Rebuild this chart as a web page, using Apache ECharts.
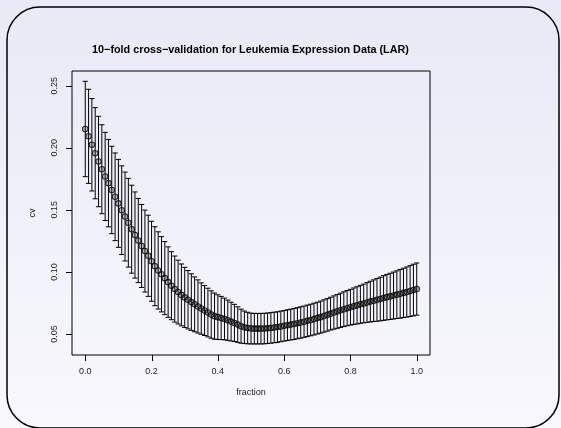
<!DOCTYPE html>
<html>
<head>
<meta charset="utf-8">
<script src="https://cdn.jsdelivr.net/npm/echarts@6/dist/echarts.min.js"></script>
<style>html,body{margin:0;padding:0;}#c{width:561px;height:428px;}</style>
</head>
<body>
<div id="c"></div>
<script>
const fraction = [0.00,0.01,0.02,0.03,0.04,0.05,0.06,0.07,0.08,0.09,
0.10,0.11,0.12,0.13,0.14,0.15,0.16,0.17,0.18,0.19,
0.20,0.21,0.22,0.23,0.24,0.25,0.26,0.27,0.28,0.29,
0.30,0.31,0.32,0.33,0.34,0.35,0.36,0.37,0.38,0.39,
0.40,0.41,0.42,0.43,0.44,0.45,0.46,0.47,0.48,0.49,
0.50,0.51,0.52,0.53,0.54,0.55,0.56,0.57,0.58,0.59,
0.60,0.61,0.62,0.63,0.64,0.65,0.66,0.67,0.68,0.69,
0.70,0.71,0.72,0.73,0.74,0.75,0.76,0.77,0.78,0.79,
0.80,0.81,0.82,0.83,0.84,0.85,0.86,0.87,0.88,0.89,
0.90,0.91,0.92,0.93,0.94,0.95,0.96,0.97,0.98,0.99,1.00];
const cv = [0.2151,0.2092,0.2024,0.1956,0.1889,0.1827,0.1769,0.1715,0.1660,0.1605,
0.1552,0.1497,0.1446,0.1396,0.1344,0.1297,0.1253,0.1209,0.1168,0.1130,
0.1086,0.1046,0.1012,0.0981,0.0950,0.0918,0.0889,0.0862,0.0838,0.0815,
0.0795,0.0776,0.0757,0.0739,0.0722,0.0705,0.0689,0.0673,0.0657,0.0644,
0.0636,0.0629,0.0621,0.0611,0.0600,0.0589,0.0576,0.0563,0.0554,0.0548,
0.0544,0.0543,0.0543,0.0543,0.0544,0.0546,0.0549,0.0553,0.0556,0.0561,
0.0566,0.0571,0.0576,0.0581,0.0587,0.0593,0.0599,0.0606,0.0613,0.0620,
0.0628,0.0636,0.0645,0.0654,0.0664,0.0673,0.0682,0.0691,0.0700,0.0708,
0.0716,0.0724,0.0731,0.0739,0.0746,0.0754,0.0761,0.0768,0.0775,0.0782,
0.0790,0.0797,0.0803,0.0810,0.0817,0.0824,0.0831,0.0838,0.0846,0.0854,0.0862];
const se = [0.0384,0.0379,0.0372,0.0367,0.0364,0.0358,0.0355,0.0352,0.0352,0.0353,
0.0354,0.0357,0.0358,0.0357,0.0354,0.0347,0.0339,0.0334,0.0330,0.0327,
0.0322,0.0318,0.0311,0.0303,0.0294,0.0284,0.0274,0.0266,0.0257,0.0249,
0.0242,0.0235,0.0228,0.0221,0.0214,0.0207,0.0201,0.0196,0.0191,0.0186,
0.0180,0.0174,0.0168,0.0162,0.0156,0.0150,0.0143,0.0137,0.0131,0.0127,
0.0124,0.0123,0.0123,0.0123,0.0123,0.0123,0.0123,0.0123,0.0123,0.0123,
0.0123,0.0124,0.0124,0.0125,0.0125,0.0126,0.0126,0.0127,0.0127,0.0128,
0.0128,0.0129,0.0130,0.0131,0.0132,0.0134,0.0136,0.0138,0.0140,0.0142,
0.0144,0.0147,0.0150,0.0153,0.0156,0.0160,0.0164,0.0168,0.0172,0.0176,
0.0180,0.0183,0.0186,0.0189,0.0192,0.0196,0.0199,0.0202,0.0205,0.0208,0.0210];
const xTicks = [0, 0.2, 0.4, 0.6, 0.8, 1.0];
const yTicks = [0.05, 0.10, 0.15, 0.20, 0.25];
const xRange = [-0.04, 1.04];
const yRange = [0.0331, 0.2618];
const titleText = '10\u2212fold cross\u2212validation for Leukemia Expression Data (LAR)';

const points = fraction.map((f, i) => [f, cv[i]]);
const bars = fraction.map((f, i) => [f, cv[i] - se[i], cv[i] + se[i]]);

const chart = echarts.init(document.getElementById('c'), null, {renderer: 'canvas'});
const font = 'Liberation Sans, Arial, Helvetica, sans-serif';
const TICK = 6;
function snap(v) { return Math.round(v) + 0.5; }
chart.setOption({
  animation: false,
  backgroundColor: 'transparent',
  graphic: [
    {type: 'rect', z: -10, silent: true, shape: {x: 0, y: 0, width: 561, height: 428},
     style: {fill: new echarts.graphic.LinearGradient(0, 0, 0, 1, [
        {offset: 0, color: '#e9e9f7'}, {offset: 1, color: '#f8f8fd'}])}},
    {type: 'rect', z: 100, silent: true, shape: {x: 7, y: 7, width: 552, height: 421, r: 33},
     style: {fill: 'none', stroke: '#000', lineWidth: 1.5}}
  ],
  title: {
    text: titleText, left: 250.5, top: 44.5, textAlign: 'center', padding: 0,
    textStyle: {fontFamily: font, fontSize: 10.8, fontWeight: 'bold', color: '#000'}
  },
  grid: {left: 72, right: 131, top: 71, bottom: 73, show: true,
         borderColor: '#000', borderWidth: 1, backgroundColor: 'transparent'},
  xAxis: {
    type: 'value', min: xRange[0], max: xRange[1], position: 'bottom',
    name: 'fraction', nameLocation: 'middle', nameGap: 33,
    nameTextStyle: {fontFamily: font, fontSize: 9, color: '#222'},
    axisLine: {show: false, onZero: false},
    splitLine: {show: false},
    axisTick: {show: false},
    axisLabel: {customValues: xTicks, margin: 12, fontFamily: font, fontSize: 9, color: '#222',
                formatter: v => v.toFixed(1)}
  },
  yAxis: {
    type: 'value', min: yRange[0], max: yRange[1], position: 'left',
    name: 'cv', nameLocation: 'middle', nameGap: 35,
    nameTextStyle: {fontFamily: font, fontSize: 9, color: '#222'},
    axisLine: {show: false, onZero: false},
    splitLine: {show: false},
    axisTick: {show: false},
    axisLabel: {customValues: yTicks, rotate: 90, margin: 13, fontFamily: font, fontSize: 9, color: '#222',
                formatter: v => v.toFixed(2)}
  },
  series: [
    {
      type: 'custom', data: xTicks.map(v => [v]), z: 5, clip: false, silent: true,
      renderItem: function (params, api) {
        const p = api.coord([api.value(0), yRange[0]]);
        const x = snap(p[0]);
        return {type: 'line', shape: {x1: x, y1: p[1], x2: x, y2: p[1] + TICK},
                style: {stroke: '#000', lineWidth: 1}};
      }
    },
    {
      type: 'custom', data: yTicks.map(v => [xRange[0], v]), z: 5, clip: false, silent: true,
      renderItem: function (params, api) {
        const p = api.coord([api.value(0), api.value(1)]);
        const y = snap(p[1]);
        return {type: 'line', shape: {x1: p[0] - TICK, y1: y, x2: p[0], y2: y},
                style: {stroke: '#000', lineWidth: 1}};
      }
    },
    {
      type: 'custom', data: bars, z: 2,
      renderItem: function (params, api) {
        const x = api.value(0);
        const lo = api.coord([x, api.value(1)]);
        const hi = api.coord([x, api.value(2)]);
        const w = 2.6;
        const st = {stroke: '#000', lineWidth: 1};
        return {type: 'group', children: [
          {type: 'line', shape: {x1: lo[0], y1: lo[1], x2: hi[0], y2: hi[1]}, style: st},
          {type: 'line', shape: {x1: hi[0] - w, y1: hi[1], x2: hi[0] + w, y2: hi[1]}, style: st},
          {type: 'line', shape: {x1: lo[0] - w, y1: lo[1], x2: lo[0] + w, y2: lo[1]}, style: st}
        ]};
      }
    },
    {
      type: 'scatter', data: points, z: 3, symbol: 'circle', symbolSize: 5.5,
      itemStyle: {color: 'rgba(60,60,60,0.35)', borderColor: '#000', borderWidth: 1.1}
    }
  ]
});
</script>
</body>
</html>
